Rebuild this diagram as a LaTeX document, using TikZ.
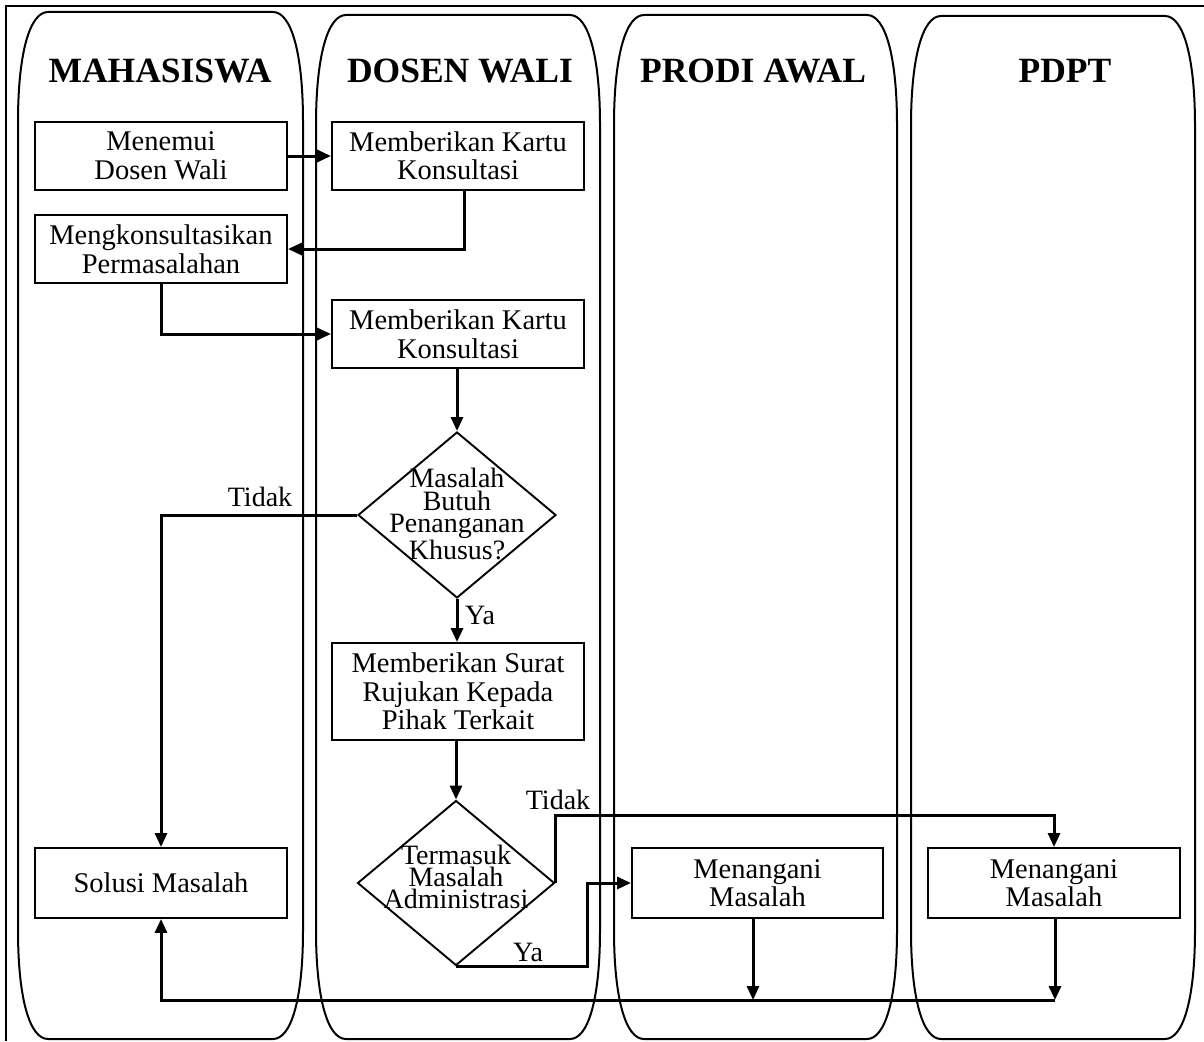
\documentclass[tikz,border=0pt]{standalone}
\usepackage{fontspec}
\setmainfont{Liberation Serif}
\usetikzlibrary{shapes.geometric,arrows.meta,calc}
\begin{document}
\begin{tikzpicture}[x=1pt,y=-1pt,
  lanestyle/.style={draw=black,line width=2pt},
  procbox/.style={draw=black,line width=1.9pt,minimum width=252pt,minimum height=68pt,inner sep=0pt,align=center,font=\fontsize{28.5}{28.5}\selectfont},
  dia/.style={draw=black,line width=1.9pt,diamond,minimum width=198pt,minimum height=166pt,inner sep=0pt},
  dtext/.style={align=center,inner sep=0pt,font=\fontsize{28}{22.3}\selectfont},
  ttl/.style={anchor=base,inner sep=0pt,font=\bfseries\fontsize{35.5}{35}\selectfont},
  lbl/.style={inner sep=0pt,font=\fontsize{28}{28}\selectfont},
  arr/.style={line width=3pt,-{Triangle[length=14pt,width=12pt]}},
  conn/.style={line width=3pt}
]
\useasboundingbox (0,0) rectangle (1204,1041);
% frame
\draw[line width=1.8pt] (6,1041) -- (6,6) -- (1204,6);
% lanes
\foreach \a/\b/\t in {18/303/12, 316/600/15, 614/897/15, 911/1195/16}{
  \draw[lanestyle] ({\a+30},\t) -- ({\b-30},\t)
    .. controls ({\b-12},\t) and (\b,{\t+40}) .. (\b,{\t+110})
    -- (\b,930)
    .. controls (\b,1000) and ({\b-12},1039) .. ({\b-30},1039)
    -- ({\a+30},1039)
    .. controls ({\a+12},1039) and (\a,1000) .. (\a,930)
    -- (\a,{\t+110})
    .. controls (\a,{\t+40}) and ({\a+12},\t) .. cycle;
}
% titles
\node[ttl] (t1) at (160,82) {MAHASISWA};
\node[ttl] (t2) at (460,82) {DOSEN WALI};
\node[ttl] (t3) at (753,82) {PRODI AWAL};
\node[ttl] (t4) at (1065,82) {PDPT};
% nodes
\node[procbox] (m1) at (161,156) {Menemui\\Dosen Wali};
\node[procbox] (k1) at (458,156) {Memberikan Kartu\\Konsultasi};
\node[procbox] (m2) at (161,249) {Mengkonsultasikan\\Permasalahan};
\node[procbox] (k2) at (458,334) {Memberikan Kartu\\Konsultasi};
\node[dia] (d1) at (457,515) {};
\node[dtext] (d1t) at (457,514) {Masalah\\Butuh\\Penanganan\\Khusus?};
\node[procbox,minimum height=97pt] (s) at (458,691.5) {Memberikan Surat\\Rujukan Kepada\\Pihak Terkait};
\node[dia,minimum width=197pt,minimum height=165pt] (d2) at (456,883) {};
\node[dtext] (d2t) at (456,877) {Termasuk\\Masalah\\Administrasi};
\node[procbox,minimum height=70pt] (sol) at (161,883) {Solusi Masalah};
\node[procbox,minimum width=251pt,minimum height=70pt] (pr) at (757.5,883) {Menangani\\Masalah};
\node[procbox,minimum height=70pt] (pd) at (1054,883) {Menangani\\Masalah};
% labels
\node[lbl] (l1) at (260,497) {Tidak};
\node[lbl] (l2) at (480,615) {Ya};
\node[lbl] (l3) at (558,800) {Tidak};
\node[lbl] (l4) at (528,952) {Ya};
% connectors
\draw[arr] (m1.east) -- (k1.west);
\draw[arr] ([xshift=6pt]k1.south) |- (m2.east);
\draw[arr] (m2.south) |- (k2.west);
\draw[arr] (d1.north |- k2.south) -- (d1.north);
\draw[arr] (d1.west) -| (sol.north);
\draw[arr] (d1.south) -- (d1.south |- s.north);
\draw[arr] (d2.north |- s.south) -- (d2.north);
\draw[arr] (d2.east) |- ([yshift=32pt]pd.north) -- (pd.north);
\draw[arr] (d2.south) -- ++(131,0) |- (pr.west);
\coordinate (jp) at (753,1000);
\coordinate (jd) at (1055,1000);
\draw[arr] (pr.south -| jp) -- (jp);
\draw[arr] (pd.south -| jd) -- (jd);
\draw[arr] (jd) -- (jd -| sol.south) -- (sol.south);
\end{tikzpicture}
\end{document}
